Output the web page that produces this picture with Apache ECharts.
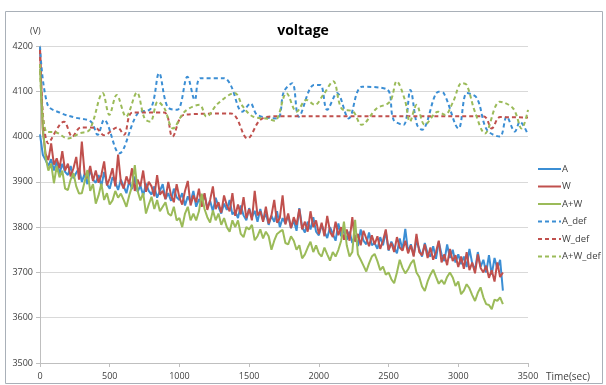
<!DOCTYPE html>
<html>
<head>
<meta charset="utf-8">
<title>voltage</title>
<script src="https://cdn.jsdelivr.net/npm/echarts@6/dist/echarts.min.js"></script>
<style>
  html, body { margin: 0; padding: 0; background: #fff; }
  #chart { width: 606px; height: 385px; }
</style>
</head>
<body>
<div id="chart"></div>
<script>
  // sampling step of the three measured series (sec)
  const step = 20

  const seriesNames = ['A', 'W', 'A+W', 'A_def', 'W_def', 'A+W_def']
  const colors = ['#3b8ed4', '#c0504d', '#9bbb59']

  const xTicks = [0, 3500, 500]
  const yTicks = [3500, 4200, 100]

  // A, one value every 20 s from 0 s
  const A = [
    4005, 3960, 3948, 3935, 3950, 3925, 3945, 3918, 3940, 3922,
    3915, 3935, 3908, 3920, 3930, 3900, 3918, 3895, 3928, 3905,
    3898, 3915, 3890, 3922, 3895, 3885, 3910, 3900, 3882, 3905,
    3890, 3875, 3902, 3884, 3912, 3878, 3892, 3870, 3896, 3880,
    3872, 3890, 3865, 3880, 3895, 3862, 3875, 3858, 3885, 3866,
    3860, 3875, 3848, 3868, 3855, 3880, 3845, 3862, 3850, 3872,
    3842, 3858, 3835, 3865, 3845, 3830, 3852, 3838, 3860, 3828,
    3835, 3820, 3848, 3826, 3815, 3842, 3822, 3836, 3812, 3840,
    3815, 3830, 3805, 3825, 3812, 3835, 3800, 3820, 3808, 3826,
    3798, 3815, 3792, 3842, 3800, 3788, 3812, 3795, 3822, 3790,
    3782, 3805, 3790, 3776, 3800, 3785, 3770, 3808, 3780, 3795,
    3772, 3790, 3765, 3782, 3758, 3795, 3770, 3762, 3788, 3760,
    3765, 3752, 3778, 3760, 3790, 3748, 3768, 3755, 3742, 3775,
    3750, 3796, 3745, 3762, 3738, 3770, 3752, 3735, 3765, 3742,
    3735, 3758, 3730, 3768, 3740, 3725, 3762, 3732, 3750, 3722,
    3740, 3718, 3735, 3712, 3752, 3720, 3705, 3745, 3712, 3728,
    3700, 3738, 3695, 3732, 3708, 3728, 3660
  ]

  // W, one value every 20 s from 0 s
  const W = [
    4195, 4015, 3962, 3948, 3985, 3938, 3952, 3930, 3968, 3925,
    3940, 3912, 3930, 3955, 3905, 3989, 3918, 3908, 3935, 3902,
    3925, 3898, 3915, 3945, 3892, 3908, 3930, 3890, 3960, 3900,
    3885, 3912, 3895, 3930, 3880, 3905, 3890, 3925, 3878, 3900,
    3890, 3868, 3915, 3872, 3880, 3862, 3900, 3870, 3855, 3895,
    3865, 3850, 3880, 3902, 3848, 3870, 3855, 3885, 3845, 3875,
    3838, 3860, 3890, 3840, 3855, 3832, 3870, 3848, 3835, 3875,
    3825, 3850, 3828, 3866, 3820, 3840, 3815, 3880, 3826, 3835,
    3812, 3845, 3808, 3826, 3860, 3810, 3820, 3870, 3806, 3830,
    3798, 3822, 3805, 3840, 3795, 3812, 3790, 3835, 3800, 3815,
    3785, 3810, 3780, 3825, 3790, 3778, 3812, 3782, 3800, 3772,
    3795, 3770, 3822, 3768, 3785, 3760, 3792, 3775, 3758, 3782,
    3762, 3780, 3752, 3770, 3795, 3750, 3765, 3745, 3778, 3755,
    3748, 3770, 3742, 3760, 3735, 3785, 3745, 3738, 3762, 3732,
    3755, 3728, 3745, 3770, 3722, 3740, 3716, 3752, 3725, 3738,
    3712, 3735, 3708, 3745, 3705, 3722, 3698, 3740, 3710, 3700,
    3715, 3688, 3705, 3680, 3722, 3690, 3700
  ]

  // A+W, one value every 20 s from 0 s
  const AW = [
    4150, 4020, 3955, 3925, 3940, 3897, 3935, 3910, 3925, 3885,
    3882, 3905, 3919, 3890, 3874, 3875, 3900, 3926, 3880, 3895,
    3852, 3870, 3896, 3860, 3875, 3850, 3859, 3880, 3865, 3874,
    3860, 3845, 3870, 3890, 3937, 3880, 3859, 3875, 3830, 3850,
    3867, 3840, 3860, 3835, 3845, 3855, 3830, 3825, 3845, 3815,
    3820, 3800, 3830, 3845, 3815, 3830, 3815, 3835, 3874, 3840,
    3822, 3810, 3837, 3815, 3830, 3805, 3820, 3800, 3790, 3815,
    3800, 3815, 3785, 3778, 3800, 3795, 3805, 3771, 3780, 3795,
    3775, 3790, 3780, 3750, 3770, 3785, 3790, 3794, 3765, 3762,
    3780, 3770, 3750, 3760, 3731, 3740, 3755, 3768, 3745, 3760,
    3742, 3735, 3755, 3740, 3726, 3745, 3735, 3750, 3770, 3812,
    3760, 3735, 3745, 3816, 3740, 3728, 3715, 3702, 3720, 3735,
    3741, 3725, 3705, 3713, 3695, 3700, 3685, 3676, 3700, 3728,
    3710, 3698, 3707, 3720, 3728, 3700, 3690, 3669, 3659, 3680,
    3695, 3706, 3690, 3675, 3683, 3674, 3690, 3700, 3689, 3670,
    3680, 3652, 3660, 3674, 3665, 3650, 3637, 3655, 3667, 3645,
    3630, 3628, 3619, 3640, 3637, 3645, 3630
  ]

  // default-setting runs, [time, voltage]
  const A_def = [
    [0, 4199], [55, 4070], [150, 4052], [250, 4042], [365, 4033], [413, 4004],
    [460, 4037], [568, 3963], [700, 4051], [795, 4062], [854, 4140], [914, 4066],
    [985, 4059], [1057, 4132], [1110, 4081], [1152, 4129], [1319, 4129], [1367, 4114],
    [1451, 4055], [1510, 4073], [1558, 4048], [1701, 4040], [1749, 4099], [1809, 4118],
    [1856, 4044], [1964, 4114], [2011, 4114], [2059, 4059], [2131, 4096], [2214, 4040],
    [2310, 4110], [2489, 4104], [2536, 4037], [2608, 4026], [2656, 4103], [2704, 4026],
    [2740, 4015], [2859, 4099], [2895, 4096], [3002, 4018], [3062, 4096], [3133, 4085],
    [3205, 4015], [3298, 4000], [3347, 4044], [3406, 4011], [3442, 4033], [3500, 4004]
  ]
  const W_def = [
    [0, 4191], [60, 3985], [172, 4033], [232, 4000], [292, 4020], [400, 4019],
    [459, 4003], [555, 4020], [603, 4004], [663, 4053], [890, 4053], [950, 4000],
    [1034, 4048], [1369, 4051], [1488, 3996], [1584, 4038], [1703, 4045], [3180, 4045],
    [3240, 4018], [3300, 4043], [3500, 4042]
  ]
  const AW_def = [
    [0, 4160], [45, 4011], [117, 4009], [200, 3996], [284, 4007], [356, 4015],
    [450, 4096], [497, 4048], [550, 4092], [617, 4044], [695, 4097], [750, 4040],
    [791, 4033], [845, 4077], [893, 4062], [953, 4018], [1037, 4055], [1145, 4070],
    [1193, 4044], [1276, 4073], [1396, 4096], [1456, 4066], [1528, 4044], [1624, 4040],
    [1684, 4035], [1768, 4096], [1840, 4055], [1911, 4081], [1971, 4070], [2031, 4092],
    [2103, 4122], [2163, 4062], [2246, 4055], [2306, 4026], [2414, 4062], [2510, 4077],
    [2558, 4122], [2617, 4081], [2653, 4033], [2701, 4070], [2760, 4026], [2856, 4055],
    [2904, 4048], [2963, 4077], [3024, 4118], [3060, 4114], [3119, 4055], [3191, 4007],
    [3298, 4077], [3394, 4062], [3454, 4018], [3500, 4059]
  ]

  function withTime(values) {
    return values.map((v, i) => [i * step, v])
  }

  const font = '"Open Sans", "Noto Sans", sans-serif'
  const textColor = '#404040'

  function solid(name, color, values) {
    return {
      name: name,
      type: 'line',
      data: withTime(values),
      symbol: 'none',
      itemStyle: {color: color},
      lineStyle: {color: color, width: 2},
      emphasis: {disabled: true}
    }
  }

  function dashed(name, color, values) {
    return {
      name: name,
      type: 'line',
      data: values,
      symbol: 'none',
      smooth: 0.35,
      itemStyle: {color: color},
      lineStyle: {color: color, width: 2, type: [4, 3]},
      emphasis: {disabled: true}
    }
  }

  const chart = echarts.init(document.getElementById('chart'), null, {renderer: 'canvas'})
  chart.setOption({
    animation: false,
    backgroundColor: '#fff',
    title: {
      text: 'voltage',
      left: 'center',
      top: 19,
      textStyle: {fontFamily: font, fontSize: 14, fontWeight: 'bold', color: '#000'}
    },
    graphic: [
      {
        type: 'rect',
        shape: {x: 5.5, y: 11.5, width: 597, height: 372},
        style: {fill: 'none', stroke: '#a9b0b8', lineWidth: 1},
        silent: true
      },
      {
        type: 'text',
        left: 30,
        top: 27,
        style: {text: '(V)', fontFamily: font, fontSize: 9, fill: textColor}
      }
    ],
    legend: {
      orient: 'vertical',
      left: 537,
      top: 164,
      padding: 0,
      itemWidth: 23,
      itemHeight: 10,
      itemGap: 7.5,
      data: seriesNames,
      itemStyle: {opacity: 0},
      textStyle: {fontFamily: font, fontSize: 9.5, color: textColor, padding: [0, 0, 0, -4], overflow: 'none'}
    },
    grid: {left: 40, right: 78, top: 46, bottom: 22, containLabel: false},
    xAxis: {
      type: 'value',
      min: xTicks[0],
      max: xTicks[1],
      interval: xTicks[2],
      name: 'Time(sec)',
      nameLocation: 'end',
      nameGap: 18,
      nameTextStyle: {fontFamily: font, fontSize: 10, color: textColor, verticalAlign: 'top', padding: [9, 0, 0, 0]},
      axisLine: {show: true, lineStyle: {color: '#bfbfbf'}},
      axisTick: {show: true, length: 4, lineStyle: {color: '#bfbfbf'}},
      axisLabel: {fontFamily: font, fontSize: 9, color: textColor, margin: 9, formatter: v => String(v)},
      splitLine: {show: false}
    },
    yAxis: {
      type: 'value',
      min: yTicks[0],
      max: yTicks[1],
      interval: yTicks[2],
      axisLine: {show: true, lineStyle: {color: '#bfbfbf'}},
      axisTick: {show: true, length: 4, lineStyle: {color: '#bfbfbf'}},
      axisLabel: {fontFamily: font, fontSize: 9, color: textColor, margin: 7, formatter: v => String(v)},
      splitLine: {show: true, lineStyle: {color: '#d9d9d9'}}
    },
    series: [
      solid('A', colors[0], A),
      solid('W', colors[1], W),
      solid('A+W', colors[2], AW),
      dashed('A_def', colors[0], A_def),
      dashed('W_def', colors[1], W_def),
      dashed('A+W_def', colors[2], AW_def)
    ]
  })
</script>
</body>
</html>
